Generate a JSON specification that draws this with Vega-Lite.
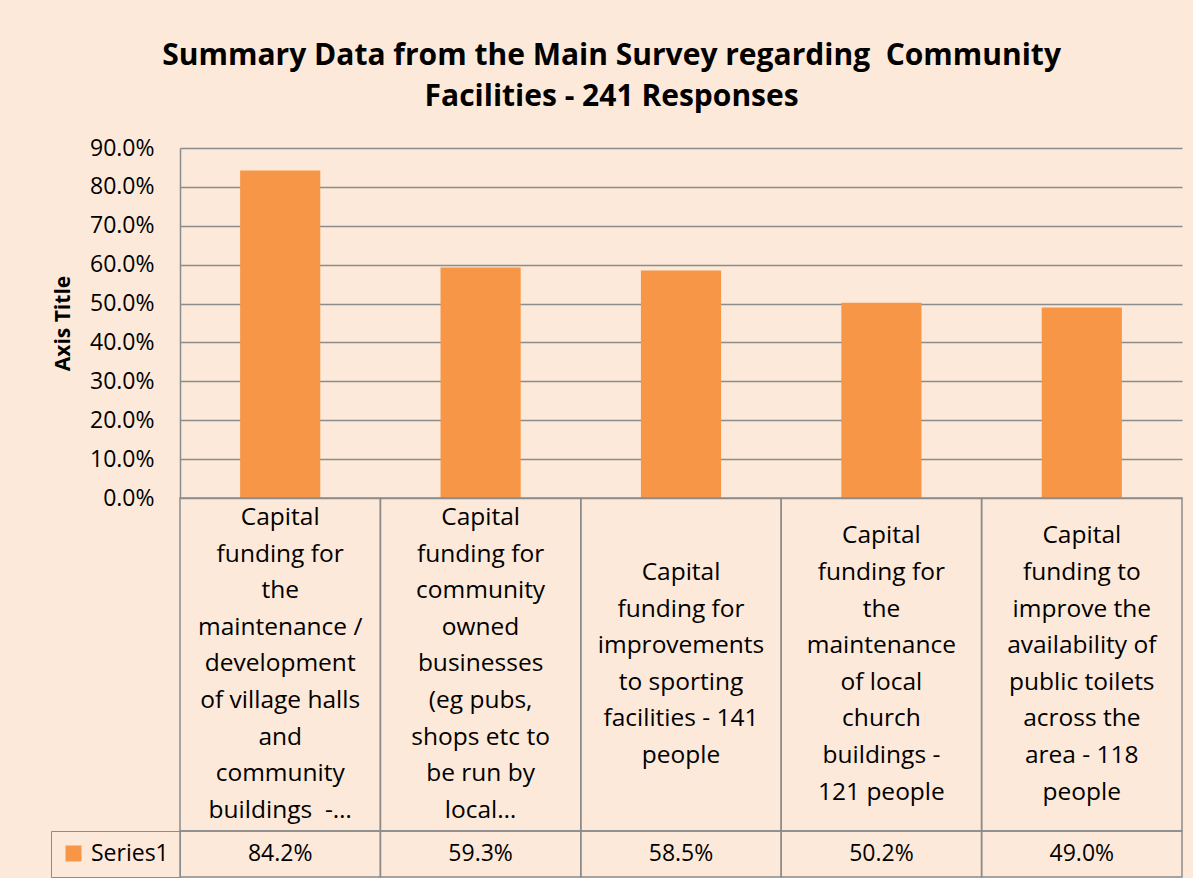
{
  "$schema": "https://vega.github.io/schema/vega-lite/v6.json",
  "background": "#FDE9D9",
  "padding": {"left": 50, "top": 41, "right": 10, "bottom": 0},
  "bounds": "flush",
  "config": {"view": {"stroke": null}, "font": "Open Sans"},
  "title": {
    "text": ["Summary Data from the Main Survey regarding\u00a0 Community", "Facilities - 241 Responses"],
    "font": "Open Sans", "fontSize": 30, "fontWeight": "bold", "color": "#000000",
    "lineHeight": 41, "anchor": "middle", "offset": 25, "dx": -5
  },
  "data": {"values": [
    {"category": "Capital\nfunding for\nthe\nmaintenance /\ndevelopment\nof village halls\nand\ncommunity\nbuildings\u00a0 -…", "share": 0.842, "label": "84.2%", "series": "Series1"},
    {"category": "Capital\nfunding for\ncommunity\nowned\nbusinesses\n(eg pubs,\nshops etc to\nbe run by\nlocal…", "share": 0.593, "label": "59.3%", "series": "Series1"},
    {"category": "Capital\nfunding for\nimprovements\nto sporting\nfacilities - 141\npeople", "share": 0.585, "label": "58.5%", "series": "Series1"},
    {"category": "Capital\nfunding for\nthe\nmaintenance\nof local\nchurch\nbuildings -\n121 people", "share": 0.502, "label": "50.2%", "series": "Series1"},
    {"category": "Capital\nfunding to\nimprove the\navailability of\npublic toilets\nacross the\narea - 118\npeople", "share": 0.49, "label": "49.0%", "series": "Series1"}
  ]},
  "spacing": 0,
  "resolve": {"scale": {"x": "independent", "color": "independent"}, "legend": {"color": "independent"}},
  "vconcat": [
    {
      "width": 1002, "height": 350,
      "mark": {"type": "bar", "color": "#F79646"},
      "encoding": {
        "x": {"field": "category", "type": "nominal", "sort": null, "scale": {"paddingInner": 0.6, "paddingOuter": 0.3}, "axis": null},
        "y": {"field": "share", "type": "quantitative", "scale": {"domain": [0, 0.9]},
          "axis": {"values": [0, 0.1, 0.2, 0.3, 0.4, 0.5, 0.6, 0.7, 0.8, 0.9], "format": ".1%",
            "title": "Axis Title", "titleFontSize": 21, "titleFontWeight": "bold", "titleColor": "#000000", "titlePadding": 16,
            "labelFontSize": 23, "labelColor": "#000000", "labelPadding": 26, "ticks": false,
            "gridColor": "#8c8c8c", "gridWidth": 1.5, "domainColor": "#8c8c8c", "domainWidth": 1.5}}
      }
    },
    {
      "width": 1002, "height": 333,
      "transform": [{"calculate": "length(split(datum.category, '\\n'))", "as": "lines"}],
      "encoding": {
        "x": {"field": "category", "type": "nominal", "sort": null, "scale": {"padding": 0}, "axis": null}
      },
      "layer": [
        {"mark": {"type": "rect", "fill": "transparent", "stroke": "#8c8c8c", "strokeWidth": 1.5}},
        {"mark": {"type": "text", "lineBreak": "\n", "fontSize": 24.5, "lineHeight": 36.6, "baseline": "middle", "align": "center", "color": "#000000"},
         "encoding": {
           "text": {"field": "category"},
           "y": {"field": "lines", "type": "quantitative", "scale": {"domain": [1, 9], "range": [166.5, 20.1]}, "axis": null}
         }}
      ]
    },
    {
      "width": 1002, "height": 46,
      "encoding": {
        "x": {"field": "category", "type": "nominal", "sort": null, "scale": {"padding": 0}, "axis": null}
      },
      "layer": [
        {"mark": {"type": "rect", "fill": "transparent", "stroke": "#8c8c8c", "strokeWidth": 1.5}},
        {"mark": {"type": "text", "fontSize": 23, "baseline": "middle", "align": "center", "color": "#000000"},
         "encoding": {"text": {"field": "label"}}},
        {"mark": {"type": "text", "fontSize": 23, "baseline": "middle", "align": "center"},
         "encoding": {
           "text": {"value": ""},
           "color": {"field": "series", "type": "nominal", "scale": {"range": ["#F79646"]},
             "legend": {"orient": "left", "offset": 0, "title": null, "symbolType": "square", "symbolSize": 256,
               "labelFontSize": 23, "labelColor": "#000000", "labelOffset": 6, "padding": 11,
               "strokeColor": "#8c8c8c"}}
         }}
      ]
    }
  ]
}
